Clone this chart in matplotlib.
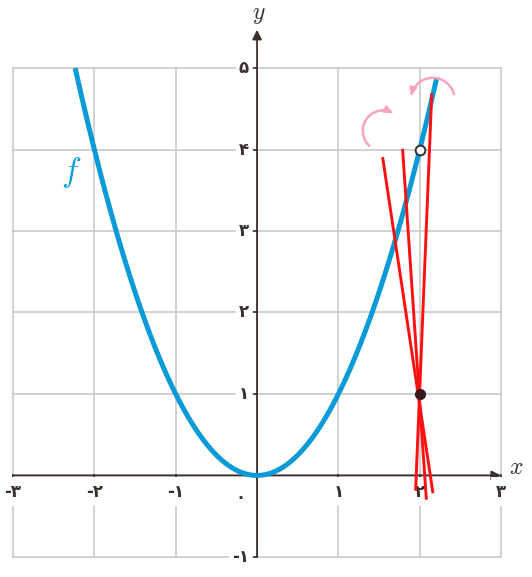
import numpy as np
import matplotlib
matplotlib.use("Agg")
import matplotlib.pyplot as plt
from matplotlib.patches import FancyArrowPatch
from matplotlib.path import Path

plt.rcParams["mathtext.fontset"] = "cm"

# data
x_ticks = [-3, -2, -1, 1, 2, 3]
x_labels = ["-۳", "-۲", "-۱", "۱", "۲", "۳"]
y_ticks = [-1, 1, 2, 3, 4, 5]
y_labels = ["-۱", "۱", "۲", "۳", "۴", "۵"]
curve_x = np.linspace(-2.236, 2.21, 300)
curve_y = curve_x ** 2
# red lines through (2, 1): (x_top, y_top, x_bottom, y_bottom)
red_lines = [
    (1.546, 3.89, 2.16, -0.20),
    (1.79, 3.99, 2.08, -0.28),
    (2.147, 4.67, 1.95, -0.17),
]
open_pt = (2, 4)
dot_pt = (2, 1)
# pink arcs: center x, center y, radius, start angle, end angle (degrees)
arcs = [(1.55, 4.23, 0.25, 228, 62), (2.16, 4.61, 0.27, 15, 168)]

blue = "#0a9ad8"
grid_c = "#c9c9c9"
axis_c = "#3a2f2a"

fig = plt.figure(figsize=(5.32, 5.77), dpi=100)
ax = fig.add_axes([0, 0, 1, 1])
ax.set_xlim(-3.16, 3.38)
ax.set_ylim(-1.246, 5.835)
ax.axis("off")

# grid
for gx in range(-3, 4):
    ax.plot([gx, gx], [-1, 5], color=grid_c, lw=1.2, zorder=1)
for gy in range(-1, 6):
    ax.plot([-3, 3], [gy, gy], color=grid_c, lw=1.2, zorder=1)

# axes with arrows
ax.annotate("", xy=(3.0, 0), xytext=(-3, 0),
            arrowprops=dict(arrowstyle="-|>", color=axis_c, lw=1.3,
                            mutation_scale=14, shrinkA=0, shrinkB=0), zorder=3)
ax.annotate("", xy=(0, 5.47), xytext=(0, -1),
            arrowprops=dict(arrowstyle="-|>", color=axis_c, lw=1.3,
                            mutation_scale=14, shrinkA=0, shrinkB=0), zorder=3)
ax.text(3.19, 0.1, "$x$", fontsize=17, color=axis_c, ha="center", va="center")
ax.text(0.02, 5.66, "$y$", fontsize=17, color=axis_c, ha="center", va="center")

# ticks
tick_font = dict(fontsize=12, family="DejaVu Sans", weight="bold", color=axis_c)
for t, lab in zip(x_ticks, x_labels):
    ax.plot([t, t], [0, -0.04], color=axis_c, lw=1.2, zorder=3)
    ax.text(t, -0.2, lab, ha="center", va="center", zorder=4,
            bbox=dict(facecolor="white", edgecolor="none", pad=4), **tick_font)
ax.text(-0.2, -0.26, "۰", ha="center", va="center", zorder=4, **tick_font)
for t, lab in zip(y_ticks, y_labels):
    ax.plot([0, -0.04], [t, t], color=axis_c, lw=1.2, zorder=3)
    ax.text(-0.1, t, lab, ha="right", va="center", zorder=4,
            bbox=dict(facecolor="white", edgecolor="none", pad=2), **tick_font)

# curve
ax.plot(curve_x, curve_y, color=blue, lw=3.6, zorder=5, solid_capstyle="butt")
ax.text(-2.29, 3.72, "$f$", fontsize=24, color=blue, ha="center", va="center")

# red lines
for x0, y0, x1, y1 in red_lines:
    ax.plot([x0, x1], [y0, y1], color="#ff1010", lw=2.1, zorder=6)

ax.plot(*open_pt, "o", ms=7, mfc="white", mec="#333333", mew=1.4, zorder=8)
ax.plot(*dot_pt, "o", ms=7, mfc="#3a1a1a", mec="#3a1a1a", zorder=8)

# pink arcs
for cx, cy, r, a0, a1 in arcs:
    ang = np.radians(np.linspace(a0, a1, 40))
    pts = np.column_stack([cx + r * np.cos(ang), cy + r * np.sin(ang)])
    a = FancyArrowPatch(path=Path(pts), arrowstyle="-|>", mutation_scale=10,
                        color="#f6a3c0", lw=1.8, zorder=7)
    ax.add_patch(a)

fig.savefig("out.png", dpi=100)
